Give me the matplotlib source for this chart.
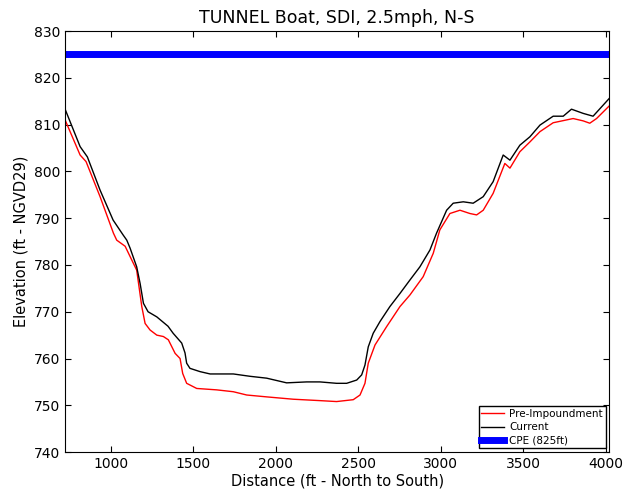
import matplotlib
matplotlib.use("Agg")
import matplotlib.pyplot as plt

# current bed profile
cur_x = [723, 814, 858, 935, 1014, 1075, 1097, 1117, 1157, 1178, 1198, 1226, 1279, 1347, 1378,
         1430, 1450, 1460, 1480, 1541, 1602, 1743, 1844, 1945, 2066, 2188, 2268, 2369, 2430,
         2491, 2521, 2541, 2561, 2591, 2632, 2692, 2753, 2814, 2874, 2935, 2975, 3036, 3076,
         3137, 3197, 3258, 3318, 3379, 3420, 3480, 3541, 3602, 3682, 3743, 3793, 3864, 3924, 4022]
cur_y = [813.3, 805.3, 803.1, 796.0, 789.6, 786.4, 785.3, 783.6, 779.6, 776.0, 771.8, 770.0, 768.9,
         766.9, 765.4, 763.3, 761.2, 759.0, 757.9, 757.2, 756.7, 756.7, 756.2, 755.8, 754.8, 755.0,
         755.0, 754.7, 754.7, 755.4, 756.5, 758.6, 762.5, 765.4, 767.9, 771.1, 773.9, 776.8, 779.6,
         783.2, 786.8, 791.7, 793.2, 793.5, 793.2, 794.6, 797.8, 803.5, 802.4, 805.6, 807.4, 809.9,
         811.8, 811.8, 813.3, 812.4, 811.8, 815.6]

# pre-impoundment profile
pre_x = [723, 814, 850, 935, 1016, 1036, 1087, 1117, 1157, 1188, 1208, 1238, 1279, 1319, 1349,
         1390, 1420, 1436, 1460, 1521, 1642, 1743, 1824, 1945, 2106, 2268, 2369, 2470, 2511,
         2541, 2561, 2602, 2672, 2753, 2814, 2894, 2955, 2995, 3056, 3117, 3177, 3218, 3258,
         3318, 3389, 3420, 3480, 3541, 3602, 3682, 3803, 3864, 3904, 3945, 4022]
pre_y = [811.0, 803.5, 802.1, 794.6, 786.8, 785.3, 784.0, 781.8, 778.9, 771.1, 767.5, 766.1, 765.0,
         764.7, 764.0, 761.1, 760.0, 756.8, 754.7, 753.6, 753.3, 752.9, 752.2, 751.8, 751.3, 751.0,
         750.8, 751.2, 752.2, 754.7, 759.0, 762.9, 766.8, 771.1, 773.6, 777.5, 782.5, 787.5, 791.0,
         791.7, 791.0, 790.7, 791.7, 795.3, 801.7, 800.7, 804.2, 806.3, 808.5, 810.4, 811.3, 810.8,
         810.3, 811.3, 814.0]

cpe = 825
x_lim = [723, 4022]
y_lim = [740, 830]

plt.rcParams['xtick.direction'] = 'in'
plt.rcParams['ytick.direction'] = 'in'
plt.rcParams['xtick.top'] = True
plt.rcParams['ytick.right'] = True

fig = plt.figure(figsize=(6.32, 4.93), dpi=100)
ax = fig.add_subplot(111)
fig.subplots_adjust(left=0.103, right=0.964, top=0.937, bottom=0.083)

ax.plot(pre_x, pre_y, color='red', lw=1, label='Pre-Impoundment')
ax.plot(cur_x, cur_y, color='black', lw=1, label='Current')
ax.plot(x_lim, [cpe, cpe], color='blue', lw=5, label='CPE (825ft)')

ax.set_xlim(x_lim)
ax.set_ylim(y_lim)
ax.set_xticks([1000, 1500, 2000, 2500, 3000, 3500, 4000])
ax.tick_params(labelsize=10, length=4)
ax.set_title('TUNNEL Boat, SDI, 2.5mph, N-S', fontsize=12.5)
ax.set_xlabel('Distance (ft - North to South)', fontsize=10.5, labelpad=2)
ax.set_ylabel('Elevation (ft - NGVD29)', fontsize=10.5)

leg = ax.legend(loc='lower right', fontsize=7.5, fancybox=False, framealpha=1,
                borderaxespad=0.35, handlelength=2.2, handletextpad=0.5,
                borderpad=0.25, labelspacing=0.35)
leg.get_frame().set_edgecolor('black')

fig.savefig('out.png', dpi=100)
